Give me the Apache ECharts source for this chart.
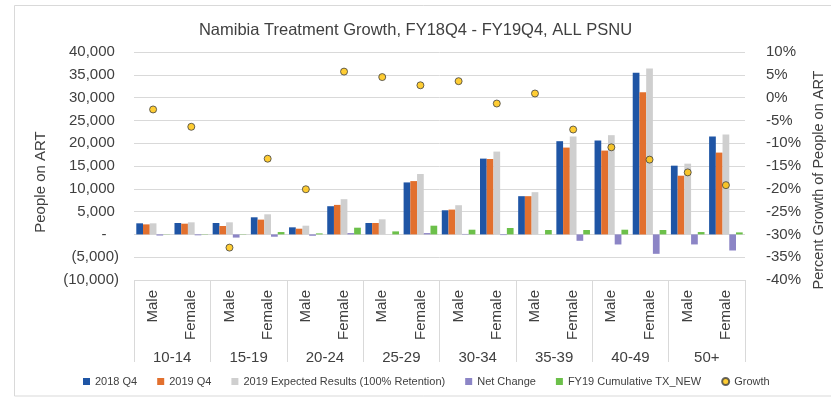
<!DOCTYPE html>
<html>
<head>
<meta charset="utf-8">
<script src="https://cdn.jsdelivr.net/npm/echarts@6/dist/echarts.min.js"></script>
<style>
  html, body { margin: 0; padding: 0; background: #ffffff; }
  #chart { width: 831px; height: 398px; }
</style>
</head>
<body>
<div id="chart"></div>
<script>
// Age bands and sex sub-categories along the horizontal axis
const ageGroups = ['10-14', '15-19', '20-24', '25-29', '30-34', '35-39', '40-49', '50+'];
const sexes = ['Male', 'Female'];

// People on ART, one value per (age band, sex) pair: Male then Female
const onArt2018Q4 = [2430, 2500, 2500, 3750, 1550, 6180, 2500, 11400, 5290, 16620, 8380, 20440, 20590, 35440, 15070, 21470];
const onArt2019Q4 = [2200, 2350, 1840, 3240, 1250, 6470, 2500, 11690, 5440, 16540, 8380, 19040, 18380, 31180, 12870, 17940];
const expected2019 = [2430, 2650, 2650, 4410, 1910, 7720, 3310, 13240, 6400, 18160, 9260, 21470, 21760, 36400, 15510, 21910];
const netChange = [-250, -200, -700, -510, -300, 290, 0, 290, 100, -150, 0, -1400, -2210, -4260, -2200, -3530];
const txNewCumulative = [40, 60, 60, 515, 220, 1470, 660, 1910, 1030, 1400, 960, 960, 1030, 960, 515, 440];
// Percent growth of people on ART (right axis)
const growthPct = [-2.6, -6.4, -32.9, -13.4, -20.1, 5.7, 4.5, 2.7, 3.6, -1.3, 0.9, -7.0, -10.9, -13.6, -16.4, -19.2];

// Axis ranges
const leftAxisMin = -10000, leftAxisMax = 40000, leftAxisStep = 5000;
const rightAxisMin = -40, rightAxisMax = 10, rightAxisStep = 5;

const sexLabels = [];
ageGroups.forEach(() => sexes.forEach(s => sexLabels.push(s)));

const textColor = '#404040';
const gridColor = '#d9d9d9';
const baseFont = 'Liberation Sans, Arial, sans-serif';

function accounting(v) {
  if (v === 0) return '-   ';
  const s = Math.abs(v).toLocaleString('en-US');
  return v < 0 ? '(' + s + ')' : s + ' ';
}

const chart = echarts.init(document.getElementById('chart'), null, { renderer: 'canvas' });

chart.setOption({
  animation: false,
  backgroundColor: '#ffffff',
  textStyle: { fontFamily: baseFont, color: textColor },
  title: {
    text: 'Namibia Treatment Growth, FY18Q4 - FY19Q4, ALL PSNU',
    left: 'center',
    top: 22,
    padding: 0,
    textStyle: { fontFamily: baseFont, fontSize: 16.5, fontWeight: 'normal', color: textColor }
  },
  graphic: [{
    type: 'rect',
    silent: true,
    shape: { x: 14.5, y: 5.5, width: 830, height: 390.5 },
    style: { fill: 'none', stroke: gridColor, lineWidth: 1 }
  }],
  legend: {
    left: 83,
    top: 376,
    padding: 0,
    itemWidth: 7,
    itemHeight: 7,
    itemGap: 20,
    textStyle: { fontFamily: baseFont, fontSize: 11, color: textColor },
    data: [
      { name: '2018 Q4', icon: 'rect' },
      { name: '2019 Q4', icon: 'rect' },
      { name: '2019 Expected Results (100% Retention)', icon: 'rect' },
      { name: 'Net Change', icon: 'rect' },
      { name: 'FY19 Cumulative TX_NEW', icon: 'rect' },
      { name: 'Growth', icon: 'circle' }
    ]
  },
  grid: { left: 134, right: 86, top: 52, bottom: 118, containLabel: false, outerBoundsMode: 'none' },
  xAxis: [
    {
      type: 'category',
      data: sexLabels,
      position: 'bottom',
      axisLine: { show: false, onZero: false },
      axisTick: { show: false },
      axisLabel: { rotate: 90, margin: 10, interval: 0, fontSize: 15, color: textColor, fontFamily: baseFont }
    },
    {
      type: 'category',
      data: ageGroups,
      position: 'bottom',
      offset: 0,
      axisLine: { show: false, onZero: false },
      axisTick: { show: true, inside: false, length: 82, interval: 0, lineStyle: { color: gridColor, width: 1 } },
      axisLabel: { margin: 70, interval: 0, fontSize: 15, color: textColor, fontFamily: baseFont }
    }
  ],
  yAxis: [
    {
      type: 'value',
      min: leftAxisMin,
      max: leftAxisMax,
      interval: leftAxisStep,
      name: 'People on ART',
      nameLocation: 'middle',
      nameRotate: 90,
      nameGap: 86,
      nameTextStyle: { fontSize: 15, color: textColor, fontFamily: baseFont, padding: [0, 32, 0, 0] },
      axisLine: { show: false },
      axisTick: { show: false },
      axisLabel: { margin: 15, fontSize: 15, color: textColor, fontFamily: baseFont, formatter: accounting },
      splitLine: { lineStyle: { color: gridColor, width: 1 } }
    },
    {
      type: 'value',
      position: 'right',
      min: rightAxisMin,
      max: rightAxisMax,
      interval: rightAxisStep,
      name: 'Percent Growth of People on ART',
      nameLocation: 'middle',
      nameRotate: 90,
      nameGap: 63,
      nameTextStyle: { fontSize: 14.5, color: textColor, fontFamily: baseFont, padding: [0, 28, 0, 0] },
      axisLine: { show: false },
      axisTick: { show: false },
      axisLabel: { margin: 21, fontSize: 15, color: textColor, fontFamily: baseFont, formatter: v => v + '%' },
      splitLine: { show: false }
    }
  ],
  series: [
    { name: '2018 Q4', type: 'bar', xAxisIndex: 0, yAxisIndex: 0, data: onArt2018Q4,
      itemStyle: { color: '#1F55A5' }, barGap: '0%', barCategoryGap: '12%' },
    { name: '2019 Q4', type: 'bar', xAxisIndex: 0, yAxisIndex: 0, data: onArt2019Q4,
      itemStyle: { color: '#E2702E' } },
    { name: '2019 Expected Results (100% Retention)', type: 'bar', xAxisIndex: 0, yAxisIndex: 0, data: expected2019,
      itemStyle: { color: '#CFCFCF' } },
    { name: 'Net Change', type: 'bar', xAxisIndex: 0, yAxisIndex: 0, data: netChange,
      itemStyle: { color: '#8C85C6' } },
    { name: 'FY19 Cumulative TX_NEW', type: 'bar', xAxisIndex: 0, yAxisIndex: 0, data: txNewCumulative,
      itemStyle: { color: '#6CC04A' } },
    { name: 'Growth', type: 'scatter', xAxisIndex: 0, yAxisIndex: 1, data: growthPct,
      symbol: 'circle', symbolSize: 7, z: 5,
      itemStyle: { color: '#FFC000', borderColor: '#404040', borderWidth: 1 } }
  ]
});
</script>
</body>
</html>
